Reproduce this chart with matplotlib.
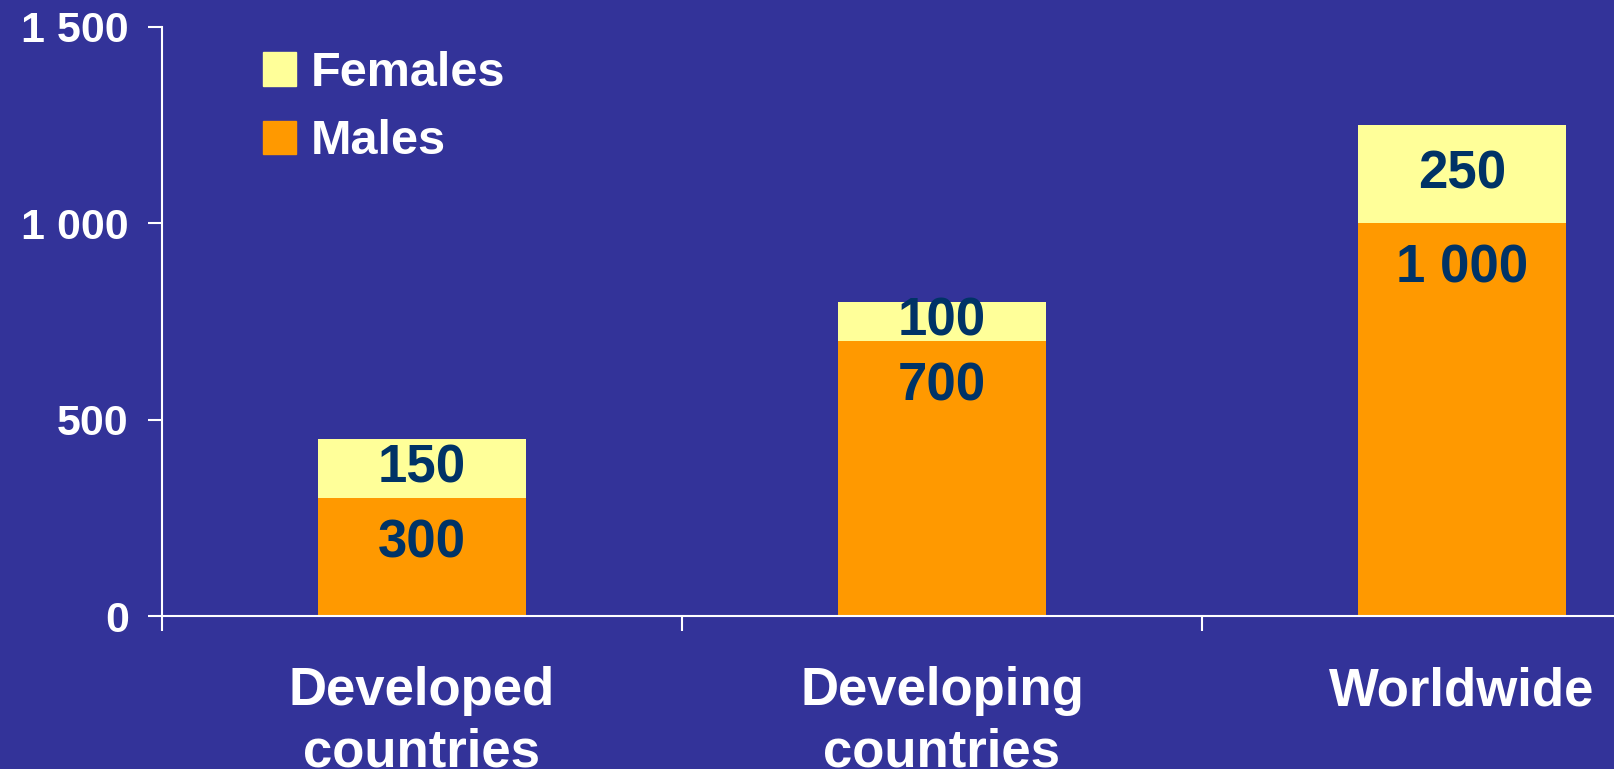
"""Stacked bars: males / females by region."""

import matplotlib
matplotlib.use("Agg")
from matplotlib import pyplot as plt
from matplotlib.patches import Patch
from matplotlib.ticker import FuncFormatter, FixedLocator

categories = ["Developed\ncountries", "Developing\ncountries", "Worldwide"]
males = [300, 700, 1000]
females = [150, 100, 250]
y_ticks = [0, 500, 1000, 1500]

BG = "#333399"
C_MALE = "#FF9900"
C_FEMALE = "#FFFF99"
C_VAL = "#003366"

plt.rcParams["font.family"] = ["Liberation Sans", "DejaVu Sans"]
plt.rcParams["font.weight"] = "bold"

W, H = 1615, 769
fig = plt.figure(figsize=(W / 100, H / 100), dpi=100, facecolor=BG)
ax = fig.add_axes([162 / W, 153 / H, (W - 162) / W, (616 - 27) / H])
ax.set_facecolor(BG)

x = list(range(len(categories)))
ax.bar(x, males, width=0.4, color=C_MALE, label="Males")
ax.bar(x, females, width=0.4, bottom=males, color=C_FEMALE, label="Females")

fmt = lambda v: f"{int(v):,}".replace(",", " ")
for i in x:
    ax.annotate(fmt(males[i]), (i, males[i]), xytext=(0, -45), textcoords="offset pixels",
                ha="center", va="center", fontsize=38, color=C_VAL, fontweight="bold")
    ax.annotate(fmt(females[i]), (i, males[i] + females[i] / 2), ha="center",
                va="center", fontsize=38, color=C_VAL, fontweight="bold")

ax.set_xlim(-0.5, -0.5 + (W - 162) / 520)
ax.set_ylim(0, 1500)
ax.yaxis.set_major_locator(FixedLocator(y_ticks))
ax.yaxis.set_major_formatter(FuncFormatter(lambda v, p: fmt(v)))
ax.set_xticks(x)
# the second line is cut by the bottom edge, as in the original slide
ax.set_xticklabels(categories, fontsize=38, color="white", linespacing=1.3)
ax.xaxis.set_minor_locator(FixedLocator([-0.5, 0.5, 1.5]))
ax.tick_params(axis="x", which="major", length=0, pad=36)
ax.tick_params(axis="x", which="minor", length=11, width=1.5, color="white")
ax.tick_params(axis="y", length=10, width=1.5, color="white", labelcolor="white",
               labelsize=31, pad=14)

for s in ["top", "right"]:
    ax.spines[s].set_visible(False)
for s in ["left", "bottom"]:
    ax.spines[s].set_color("white")
    ax.spines[s].set_linewidth(1.5)

handles = [Patch(color=C_FEMALE, label="Females"), Patch(color=C_MALE, label="Males")]
leg = fig.legend(handles=handles, loc="upper left", bbox_to_anchor=(263 / W, 1 - 51 / H),
                 frameon=False, fontsize=35, handlelength=0.68, handleheight=0.68,
                 handletextpad=0.3, labelspacing=0.48, borderpad=0, borderaxespad=0)
for t in leg.get_texts():
    t.set_color("white")

fig.savefig("out.png", dpi=100, facecolor=BG)
